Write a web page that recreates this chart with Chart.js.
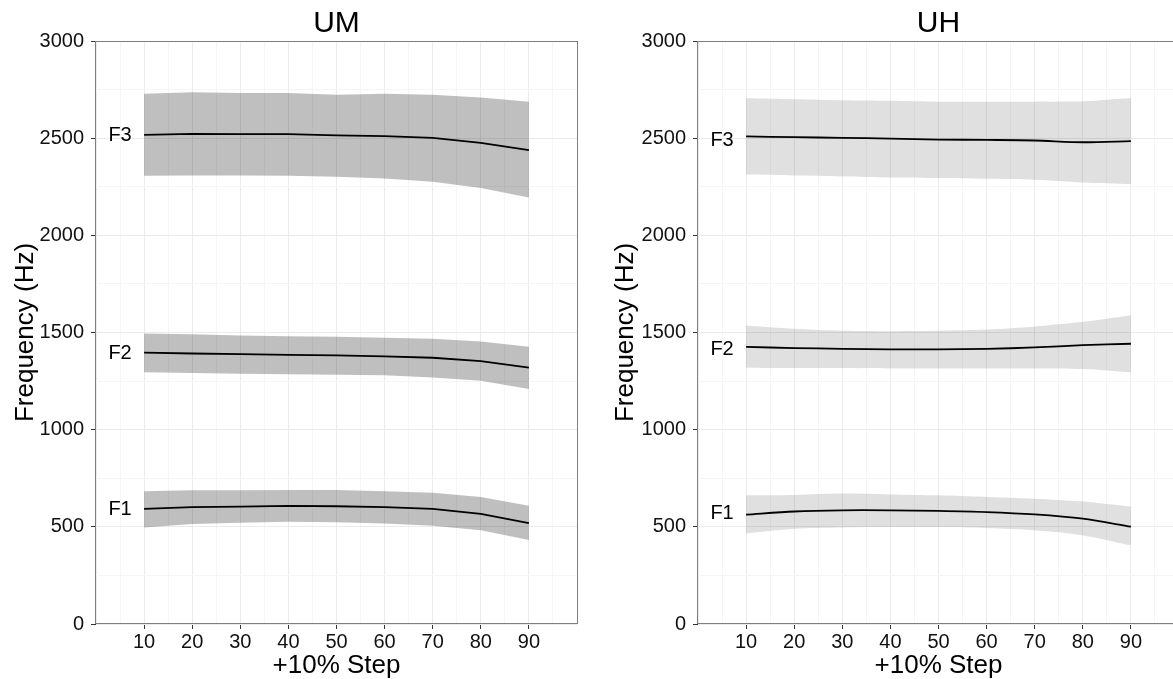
<!DOCTYPE html>
<html lang="en">
<head>
    <meta charset="UTF-8">
    <title>UM / UH formant trajectories</title>
    <script src="https://cdn.jsdelivr.net/npm/chart.js"></script>
    <style>
        html, body { margin: 0; padding: 0; background: #fff; overflow: hidden; }
        .panel { position: absolute; top: 0; }
    </style>
</head>
<body>
    <div class="panel" style="left:0"><canvas id="umChart" width="600" height="679"></canvas></div>
    <div class="panel" style="left:600px"><canvas id="uhChart" width="700" height="679"></canvas></div>

    <script>
        // x positions (+10% steps)
        const steps = [10, 20, 30, 40, 50, 60, 70, 80, 90];
        const formantNames = ['F1', 'F2', 'F3'];

        // UM panel: mean line and ribbon bounds
        const umF1 = [592, 601, 604, 608, 606, 601, 592, 567, 519];
        const umF1Lo = [497, 515, 521, 526, 523, 517, 506, 483, 432];
        const umF1Hi = [683, 688, 688, 690, 690, 683, 676, 654, 609];
        const umF2 = [1396, 1392, 1389, 1385, 1382, 1377, 1370, 1353, 1319];
        const umF2Lo = [1295, 1291, 1288, 1285, 1283, 1280, 1269, 1252, 1209];
        const umF2Hi = [1495, 1491, 1485, 1481, 1478, 1473, 1468, 1454, 1427];
        const umF3 = [2517, 2522, 2521, 2521, 2514, 2510, 2502, 2476, 2438];
        const umF3Lo = [2307, 2308, 2308, 2307, 2301, 2293, 2276, 2243, 2195];
        const umF3Hi = [2728, 2736, 2733, 2733, 2724, 2728, 2724, 2709, 2687];
        const umLabelY = [587, 1393, 2515];

        // UH panel
        const uhF1 = [563, 579, 585, 585, 582, 576, 564, 542, 501];
        const uhF1Lo = [466, 490, 497, 499, 499, 494, 482, 456, 405];
        const uhF1Hi = [662, 664, 671, 667, 662, 654, 645, 630, 604];
        const uhF2 = [1426, 1420, 1416, 1413, 1413, 1416, 1423, 1435, 1442];
        const uhF2Lo = [1319, 1317, 1317, 1315, 1315, 1315, 1315, 1312, 1295];
        const uhF2Hi = [1536, 1519, 1509, 1507, 1509, 1515, 1531, 1555, 1589];
        const uhF3 = [2509, 2505, 2502, 2498, 2493, 2491, 2488, 2479, 2485];
        const uhF3Lo = [2313, 2308, 2303, 2298, 2295, 2291, 2286, 2272, 2264];
        const uhF3Hi = [2705, 2700, 2695, 2692, 2688, 2688, 2688, 2690, 2707];
        const uhLabelY = [568, 1413, 2490];

        const labelX = 5;

        const FONT = '"Liberation Sans", Arial, Helvetica, sans-serif';
        const MAJOR = '#ebebeb';
        const MINOR = '#f5f5f5';

        function pts(ys) {
            return steps.map((x, i) => ({ x: x, y: ys[i] }));
        }

        // panel border + F1/F2/F3 labels
        const panelExtras = {
            id: 'panelExtras',
            afterDatasetsDraw(chart, args, opts) {
                const { ctx, chartArea, scales } = chart;
                ctx.save();
                ctx.strokeStyle = '#7f7f7f';
                ctx.lineWidth = 1;
                ctx.strokeRect(chartArea.left - 0.5, chartArea.top + 0.5,
                    chartArea.right - chartArea.left + 1, chartArea.bottom - chartArea.top - 1);
                ctx.fillStyle = '#000';
                ctx.font = '20px ' + FONT;
                ctx.textAlign = 'center';
                ctx.textBaseline = 'middle';
                opts.labelY.forEach((y, i) => {
                    ctx.fillText(formantNames[i], scales.x.getPixelForValue(labelX), scales.y.getPixelForValue(y));
                });
                ctx.restore();
            }
        };

        function makePanel(id, title, axisWidth, rightPad, series, fill, tension, labelY) {
            const datasets = [];
            series.forEach(s => {
                datasets.push({ data: pts(s.hi), borderWidth: 0, pointRadius: 0, backgroundColor: fill, fill: '+1', tension: tension });
                datasets.push({ data: pts(s.lo), borderWidth: 0, pointRadius: 0, fill: false, tension: tension });
            });
            series.forEach(s => {
                datasets.push({ data: pts(s.mean), borderColor: '#000', borderWidth: 1.8, pointRadius: 0, fill: false, tension: tension });
            });

            return new Chart(document.getElementById(id), {
                type: 'line',
                data: { datasets: datasets },
                plugins: [panelExtras],
                options: {
                    responsive: false,
                    animation: false,
                    devicePixelRatio: 1,
                    layout: { padding: { left: 0, right: rightPad, top: 0, bottom: 0 } },
                    plugins: {
                        legend: { display: false },
                        tooltip: { enabled: false },
                        title: {
                            display: true,
                            text: title,
                            fullSize: false,
                            color: '#000',
                            font: { family: FONT, size: 30, weight: 'normal', lineHeight: 1 },
                            padding: { top: 9, bottom: 2 }
                        },
                        panelExtras: { labelY: labelY }
                    },
                    scales: {
                        x: {
                            type: 'linear',
                            min: 0,
                            max: 100,
                            afterFit(scale) { scale.height = 55; },
                            border: { display: false },
                            grid: {
                                color: c => (c.tick.value % 10 === 0 ? MAJOR : MINOR),
                                tickColor: c => (c.tick.value % 10 === 0 && c.tick.value > 0 && c.tick.value < 100 ? '#333' : 'rgba(0,0,0,0)'),
                                tickLength: 5,
                                lineWidth: 1
                            },
                            ticks: {
                                stepSize: 5,
                                autoSkip: false,
                                maxRotation: 0,
                                padding: 1,
                                color: '#111',
                                font: { family: FONT, size: 20 },
                                callback: v => (v % 10 === 0 && v > 0 && v < 100 ? v : '')
                            },
                            title: {
                                display: true,
                                text: '+10% Step',
                                color: '#000',
                                font: { family: FONT, size: 26, lineHeight: 1 },
                                padding: { top: 0, bottom: 0 }
                            }
                        },
                        y: {
                            type: 'linear',
                            min: 0,
                            max: 3000,
                            afterFit(scale) { scale.width = axisWidth; },
                            border: { display: false },
                            grid: {
                                color: c => (c.tick.value % 500 === 0 ? MAJOR : MINOR),
                                tickColor: c => (c.tick.value % 500 === 0 ? '#333' : 'rgba(0,0,0,0)'),
                                tickLength: 5,
                                lineWidth: 1
                            },
                            ticks: {
                                stepSize: 250,
                                autoSkip: false,
                                padding: 7,
                                color: '#111',
                                font: { family: FONT, size: 20 },
                                callback: v => (v % 500 === 0 ? v : '')
                            },
                            title: {
                                display: true,
                                text: 'Frequency (Hz)',
                                color: '#000',
                                font: { family: FONT, size: 26, lineHeight: 1.2 },
                                padding: { top: 10, bottom: 0 }
                            }
                        }
                    }
                }
            });
        }

        makePanel('umChart', 'UM', 96, 23, [
            { mean: umF1, lo: umF1Lo, hi: umF1Hi },
            { mean: umF2, lo: umF2Lo, hi: umF2Hi },
            { mean: umF3, lo: umF3Lo, hi: umF3Hi }
        ], 'rgba(0,0,0,0.25)', 0, umLabelY);

        // right panel runs past the window edge, as in the original
        makePanel('uhChart', 'UH', 98, 121, [
            { mean: uhF1, lo: uhF1Lo, hi: uhF1Hi },
            { mean: uhF2, lo: uhF2Lo, hi: uhF2Hi },
            { mean: uhF3, lo: uhF3Lo, hi: uhF3Hi }
        ], 'rgba(0,0,0,0.12)', 0.3, uhLabelY);
    </script>
</body>
</html>
